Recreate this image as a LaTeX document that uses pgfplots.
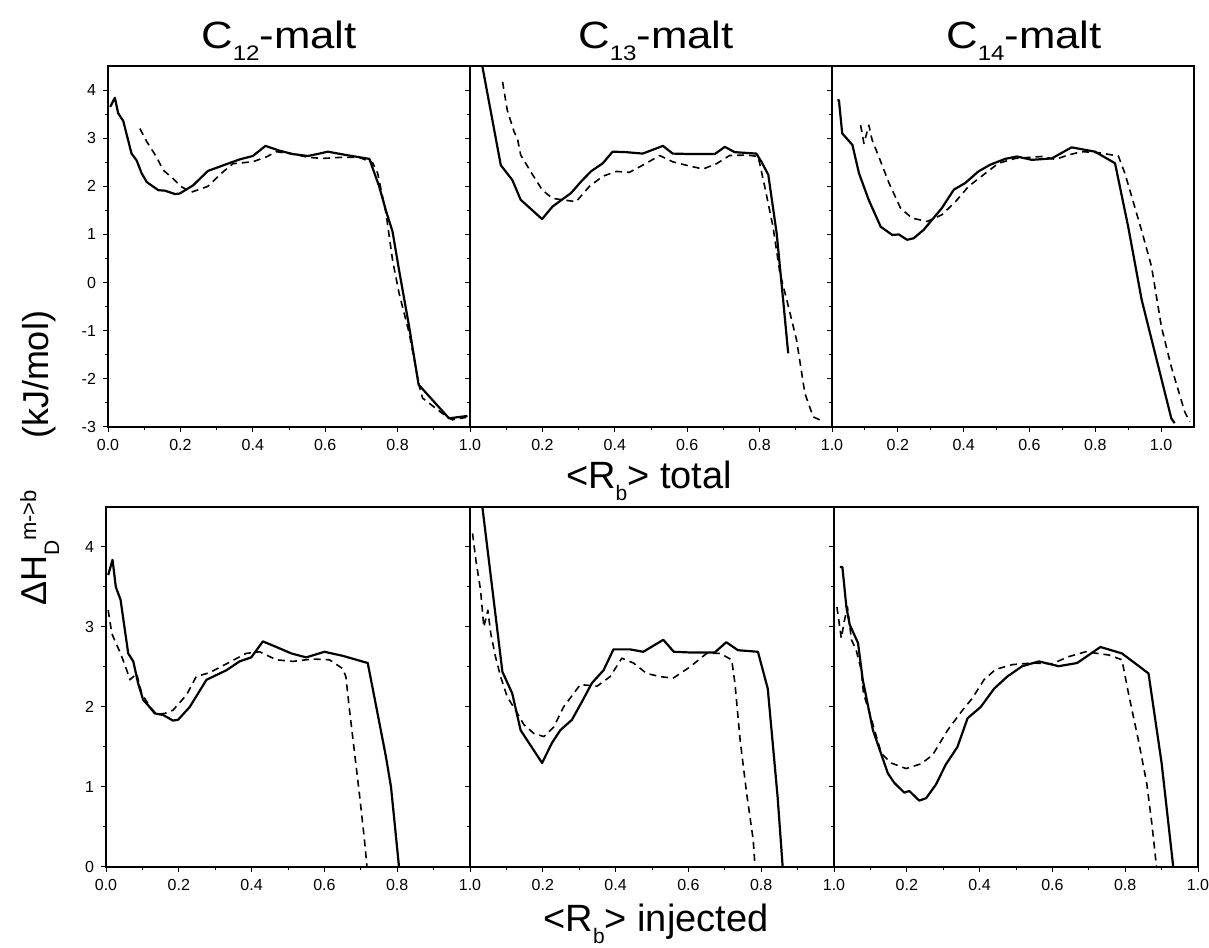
\documentclass[border=0pt]{standalone}
\usepackage{fontspec}
\setmainfont{Liberation Sans}
\newfontfamily\widesans[FakeStretch=1.15]{Liberation Sans}
\usepackage{pgfplots}
\pgfplotsset{compat=1.18}

% lowered subscript as in the scanned figure
\newcommand{\lo}[1]{\raisebox{-6pt}{\fontsize{10.5}{12}\selectfont #1}}
\newcommand{\bigtxt}{\fontsize{19}{22}\selectfont}
\newcommand{\titletxt}{\widesans\fontsize{19}{22}\selectfont}

\pgfplotsset{
  panel/.style={scale only axis, anchor=south west,
    xmin=0, xmax=1, xtick={0,0.2,0.4,0.6,0.8,1},
    tick align=outside, xtick pos=bottom, ytick pos=left,
    minor x tick num=1, minor y tick num=1,
    major tick length=2.5pt, minor tick length=1.5pt,
    axis line style={line width=0.6pt},
    tick style={line width=0.5pt, black},
    tick label style={font=\fontsize{8}{9}\selectfont}},
  toprow/.style={panel, width=181pt, height=180.5pt,
    ymin=-3, ymax=4.5, ytick={-3,-2,-1,0,1,2,3,4}},
  botrow/.style={panel, width=182pt, height=180pt,
    ymin=0, ymax=4.5, ytick={0,1,2,3,4}},
  sol/.style={black, line width=1.1pt, line join=round},
  dsh/.style={black, line width=0.8pt, line join=round, dash pattern=on 3.5pt off 2.5pt},
}

\begin{document}
\begin{tikzpicture}
\useasboundingbox (0,0) rectangle (604.5pt,473.5pt);

% ---------- top row: <R_b> total ----------
\begin{axis}[toprow, at={(54pt,260pt)},
  xticklabels={0.0,0.2,0.4,0.6,0.8,1.0},
  yticklabels={-3,-2,-1,0,1,2,3,4}]
\addplot[sol] coordinates {(0.006,3.65) (0.019,3.84) (0.028,3.52) (0.042,3.36) (0.065,2.68) (0.079,2.54) (0.093,2.27) (0.107,2.09) (0.120,2.02) (0.139,1.92) (0.157,1.91) (0.185,1.84) (0.198,1.85) (0.235,2.02) (0.276,2.32) (0.327,2.46) (0.364,2.56) (0.400,2.63) (0.435,2.84) (0.474,2.74) (0.511,2.67) (0.552,2.63) (0.584,2.68) (0.607,2.72) (0.658,2.65) (0.722,2.57) (0.749,2.00) (0.768,1.49) (0.786,1.06) (0.804,0.26) (0.832,-0.92) (0.858,-2.12) (0.942,-2.82) (0.993,-2.77)};
\addplot[dsh] coordinates {(0.088,3.20) (0.107,2.93) (0.134,2.61) (0.152,2.34) (0.180,2.16) (0.203,1.99) (0.231,1.88) (0.276,2.00) (0.313,2.27) (0.345,2.47) (0.400,2.51) (0.437,2.61) (0.465,2.72) (0.511,2.67) (0.556,2.60) (0.593,2.58) (0.639,2.60) (0.694,2.60) (0.731,2.49) (0.745,2.27) (0.768,1.44) (0.786,0.47) (0.804,-0.22) (0.832,-1.05) (0.860,-2.16) (0.869,-2.40) (0.924,-2.72) (0.951,-2.85) (0.990,-2.80)};
\end{axis}

\begin{axis}[toprow, at={(235pt,260pt)},
  xticklabels={,0.2,0.4,0.6,0.8,1.0}, yticklabels={}]
\addplot[sol] coordinates {(0.020,5.10) (0.034,4.50) (0.085,2.44) (0.117,2.13) (0.140,1.72) (0.199,1.32) (0.228,1.58) (0.279,1.86) (0.307,2.10) (0.334,2.31) (0.367,2.48) (0.394,2.72) (0.431,2.71) (0.477,2.68) (0.533,2.84) (0.560,2.68) (0.616,2.67) (0.676,2.67) (0.704,2.82) (0.731,2.71) (0.791,2.68) (0.805,2.51) (0.824,2.24) (0.847,1.03) (0.865,-0.36) (0.879,-1.47)};
\addplot[dsh] coordinates {(0.090,4.17) (0.103,3.58) (0.122,3.13) (0.131,2.99) (0.140,2.65) (0.173,2.24) (0.200,1.92) (0.228,1.75) (0.256,1.72) (0.293,1.68) (0.330,2.00) (0.367,2.21) (0.404,2.31) (0.440,2.29) (0.487,2.48) (0.524,2.64) (0.560,2.51) (0.607,2.42) (0.644,2.36) (0.681,2.47) (0.717,2.64) (0.764,2.65) (0.796,2.62) (0.814,2.00) (0.837,1.16) (0.856,0.20) (0.875,-0.36) (0.902,-1.19) (0.925,-2.30) (0.948,-2.79) (0.975,-2.88)};
\end{axis}

\begin{axis}[toprow, at={(416pt,260pt)}, xmax=1.1,
  xticklabels={,0.2,0.4,0.6,0.8,1.0}, yticklabels={}]
\addplot[sol] coordinates {(0.016,3.79) (0.021,3.79) (0.031,3.10) (0.062,2.86) (0.082,2.27) (0.112,1.71) (0.148,1.16) (0.183,0.99) (0.203,1.00) (0.228,0.89) (0.248,0.92) (0.279,1.10) (0.334,1.55) (0.370,1.93) (0.405,2.07) (0.445,2.31) (0.481,2.45) (0.526,2.57) (0.562,2.62) (0.607,2.55) (0.668,2.58) (0.728,2.81) (0.799,2.72) (0.860,2.48) (0.900,1.16) (0.941,-0.36) (1.031,-2.82) (1.041,-2.92)};
\addplot[dsh] coordinates {(0.087,3.27) (0.097,2.89) (0.112,3.27) (0.122,2.96) (0.142,2.62) (0.173,2.07) (0.208,1.55) (0.243,1.34) (0.289,1.27) (0.334,1.41) (0.375,1.68) (0.415,2.00) (0.466,2.27) (0.506,2.48) (0.557,2.58) (0.637,2.62) (0.678,2.56) (0.718,2.65) (0.758,2.72) (0.809,2.70) (0.870,2.63) (0.890,2.27) (0.940,1.10) (0.971,0.33) (1.001,-0.92) (1.031,-1.75) (1.072,-2.69) (1.087,-2.89)};
\end{axis}

% ---------- bottom row: <R_b> injected ----------
\begin{axis}[botrow, at={(53pt,40pt)},
  xticklabels={0.0,0.2,0.4,0.6,0.8,1.0},
  yticklabels={0,1,2,3,4}]
\addplot[sol] coordinates {(0.006,3.65) (0.018,3.84) (0.027,3.50) (0.040,3.34) (0.061,2.67) (0.075,2.57) (0.088,2.30) (0.102,2.09) (0.116,2.02) (0.134,1.92) (0.157,1.90) (0.184,1.83) (0.198,1.84) (0.230,2.00) (0.276,2.34) (0.331,2.46) (0.367,2.57) (0.399,2.62) (0.431,2.82) (0.468,2.75) (0.509,2.67) (0.550,2.62) (0.600,2.69) (0.650,2.64) (0.719,2.55) (0.746,1.92) (0.769,1.38) (0.783,1.00) (0.805,0.00)};
\addplot[dsh] coordinates {(0.006,3.21) (0.016,2.92) (0.025,2.82) (0.040,2.67) (0.057,2.46) (0.066,2.34) (0.084,2.42) (0.098,2.17) (0.121,2.00) (0.139,1.91) (0.162,1.92) (0.184,1.96) (0.221,2.15) (0.248,2.38) (0.285,2.43) (0.331,2.54) (0.385,2.67) (0.422,2.69) (0.468,2.59) (0.513,2.57) (0.568,2.60) (0.614,2.59) (0.650,2.48) (0.659,2.38) (0.668,2.00) (0.682,1.46) (0.696,0.92) (0.710,0.34) (0.717,0.00)};
\end{axis}

\begin{axis}[botrow, at={(235pt,40pt)},
  xticklabels={,0.2,0.4,0.6,0.8,1.0}, yticklabels={}]
\addplot[sol] coordinates {(0.020,5.02) (0.034,4.50) (0.089,2.44) (0.116,2.17) (0.139,1.71) (0.198,1.30) (0.225,1.55) (0.248,1.71) (0.280,1.84) (0.308,2.07) (0.335,2.30) (0.367,2.46) (0.394,2.72) (0.440,2.72) (0.476,2.69) (0.531,2.84) (0.560,2.69) (0.613,2.68) (0.672,2.68) (0.704,2.81) (0.736,2.71) (0.791,2.69) (0.818,2.23) (0.845,0.88) (0.859,0.00)};
\addplot[dsh] coordinates {(0.007,4.17) (0.016,3.84) (0.029,3.46) (0.038,3.00) (0.049,3.21) (0.057,2.92) (0.070,2.63) (0.084,2.38) (0.102,2.13) (0.125,1.96) (0.148,1.78) (0.175,1.67) (0.203,1.63) (0.230,1.75) (0.257,2.00) (0.303,2.28) (0.349,2.26) (0.385,2.38) (0.417,2.61) (0.449,2.55) (0.485,2.42) (0.522,2.38) (0.558,2.36) (0.604,2.50) (0.650,2.67) (0.687,2.67) (0.719,2.59) (0.728,2.29) (0.742,1.59) (0.760,0.92) (0.778,0.34) (0.783,0.00)};
\end{axis}

\begin{axis}[botrow, at={(417pt,40pt)},
  xticklabels={,0.2,0.4,0.6,0.8,1.0}, yticklabels={}]
\addplot[sol] coordinates {(0.016,3.75) (0.023,3.75) (0.034,3.25) (0.043,3.03) (0.066,2.80) (0.079,2.34) (0.107,1.71) (0.148,1.17) (0.166,1.05) (0.193,0.93) (0.207,0.95) (0.234,0.83) (0.253,0.86) (0.280,1.03) (0.307,1.28) (0.339,1.50) (0.367,1.86) (0.403,2.00) (0.440,2.23) (0.476,2.38) (0.517,2.51) (0.563,2.57) (0.617,2.51) (0.668,2.55) (0.732,2.75) (0.791,2.67) (0.864,2.42) (0.900,1.30) (0.932,0.00)};
\addplot[dsh] coordinates {(0.008,3.25) (0.020,2.86) (0.029,3.09) (0.037,3.25) (0.048,2.84) (0.061,2.71) (0.075,2.46) (0.081,2.17) (0.098,1.92) (0.130,1.42) (0.157,1.30) (0.198,1.23) (0.239,1.29) (0.271,1.40) (0.312,1.71) (0.353,1.96) (0.380,2.11) (0.412,2.34) (0.444,2.47) (0.490,2.53) (0.545,2.55) (0.599,2.54) (0.645,2.63) (0.691,2.69) (0.755,2.65) (0.791,2.59) (0.809,2.17) (0.836,1.59) (0.859,1.05) (0.873,0.55) (0.886,0.00)};
\end{axis}

% ---------- titles and axis labels ----------
\node[anchor=base, font=\titletxt] at (139.5pt,449pt) {C\lo{12}-malt};
\node[anchor=base, font=\titletxt] at (328pt,449pt) {C\lo{13}-malt};
\node[anchor=base, font=\titletxt] at (512pt,449pt) {C\lo{14}-malt};
\node[anchor=base, font=\bigtxt] at (324.5pt,229pt) {<R\lo{b}> total};
\node[anchor=base, font=\bigtxt] at (328pt,8pt) {<R\lo{b}> injected};
\node[rotate=90, anchor=base, font=\fontsize{18}{21}\selectfont] at (24pt,286pt) {(kJ/mol)};
\node[rotate=90, anchor=base west, font=\fontsize{18}{21}\selectfont] at (23.5pt,167pt)
  {ΔH\raisebox{-6pt}{\fontsize{10.5}{12}\selectfont D}\raisebox{5.5pt}{\fontsize{11}{12}\selectfont m->b}};
\end{tikzpicture}
\end{document}
